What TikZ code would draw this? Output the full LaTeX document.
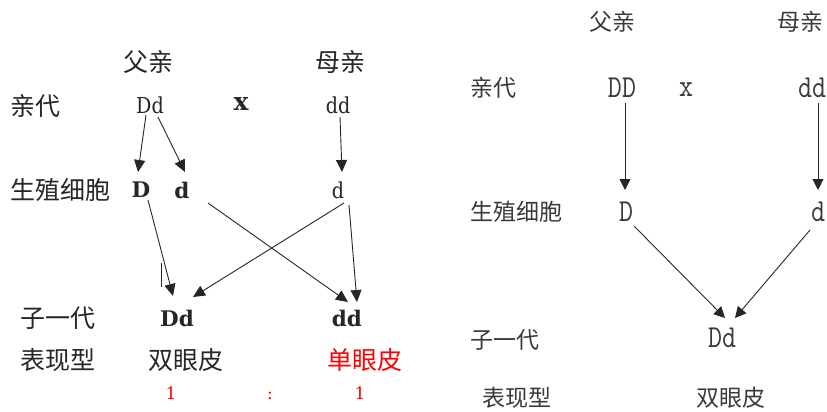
\documentclass[tikz,border=0pt]{standalone}
\usepackage{fontspec}
\setmainfont{DejaVu Serif}
\newfontfamily\serifc[FakeStretch=0.87]{DejaVu Serif}
\newfontfamily\cjk{Noto Sans CJK SC}
\newfontfamily\monof[FakeStretch=0.85]{Latin Modern Mono}
\usetikzlibrary{arrows.meta}
\definecolor{txtL}{HTML}{262626}
\definecolor{txtR}{HTML}{3A3A3A}
\begin{document}
\begin{tikzpicture}[x=1pt,y=-1pt,
  every node/.style={inner sep=0pt,outer sep=0pt},
  cnL/.style={font=\cjk\fontsize{25}{25}\selectfont,text=txtL},
  cnR/.style={font=\cjk\fontsize{23}{23}\selectfont,text=txtR},
  laL/.style={font=\serifc\fontsize{22}{22}\selectfont,text=txtL},
  laLb/.style={font=\bfseries\fontsize{21.5}{21.5}\selectfont,text=txtL},
  numr/.style={font=\fontsize{17}{17}\selectfont,text=red},
  mono/.style={font=\monof\fontsize{32}{32}\selectfont,text=txtR},
  arrL/.style={draw=black!85,line width=0.9pt,-{Triangle[length=12pt,width=11pt]}},
  arrR/.style={draw=black!85,line width=0.9pt,-{Triangle[length=11pt,width=11pt]}}]
\useasboundingbox[fill=white] (0,0) rectangle (827,412);
% ---------- left diagram ----------
\node[cnL] (fq1) at (148,62) {父亲};
\node[cnL] (mq1) at (340,62) {母亲};
\node[cnL,anchor=west] (qd1) at (10,106) {亲代};
\node[laL] (P1) at (150,105) {Dd};
\node[laLb,font=\bfseries\fontsize{25}{25}\selectfont] (x1) at (241,104) {x};
\node[laL] (P2) at (338,105) {dd};
\node[cnL,anchor=west] (sz1) at (10,190) {生殖细胞};
\node[laLb] (G1) at (141,190) {D};
\node[laLb] (G2) at (182,190) {d};
\node[laL] (G3) at (338,190) {d};
\node[cnL,anchor=west] (zy1) at (20,318) {子一代};
\node[laLb] (F1) at (177,318) {Dd};
\node[laLb] (F2) at (347,318) {dd};
\node[cnL,anchor=west] (bx1) at (20,360) {表现型};
\node[cnL] (ph1) at (186,360) {双眼皮};
\node[cnL,text=red] (ph2) at (365,360) {单眼皮};
\node[numr] (r1) at (171,393) {1};
\node[numr] (c1) at (270,396) {:};
\node[numr] (r2) at (360,393) {1};
\draw[arrL] ([shift={(-4,10)}]P1.center) -- ([shift={(-3,-18)}]G1.center);
\draw[arrL] ([shift={(8,12)}]P1.center) -- ([shift={(3,-18)}]G2.center);
\draw[arrL] ([shift={(2,12)}]P2.center) -- ([shift={(4,-18)}]G3.center);
\draw[arrL] ([shift={(7,10)}]G1.center) -- ([shift={(-4,-22)}]F1.center);
\draw[arrL] ([shift={(26,13)}]G2.center) -- ([shift={(1,-16)}]F2.center);
\draw[arrL] ([shift={(6,13)}]G3.center) -- ([shift={(16,-21)}]F1.center);
\draw[arrL] ([shift={(11,15)}]G3.center) -- ([shift={(10,-16)}]F2.center);
\coordinate (s1) at (161,263);
\coordinate (s2) at (161,287);
\draw[black!85,line width=0.8pt] (s1) -- (s2);
% ---------- right diagram ----------
\node[cnR] (fq2) at (612,22) {父亲};
\node[cnR] (mq2) at (800,22) {母亲};
\node[cnR,anchor=west] (qd2) at (470,88) {亲代};
\node[mono] (P3) at (622,88) {DD};
\node[mono] (x2) at (686,90) {x};
\node[mono] (P4) at (812,88) {dd};
\node[cnR,anchor=west] (sz2) at (470,212) {生殖细胞};
\node[mono] (G4) at (626,212) {D};
\node[mono] (G5) at (818,212) {d};
\node[cnR,anchor=west] (zy2) at (470,340) {子一代};
\node[mono] (F3) at (722,338) {Dd};
\node[cnR,anchor=west] (bx2) at (482,398) {表现型};
\node[cnR] (ph3) at (731,398) {双眼皮};
\draw[arrR] ([shift={(3,15)}]P3.center) -- ([shift={(-1,-22)}]G4.center);
\draw[arrR] ([shift={(6,15)}]P4.center) -- ([shift={(0,-22)}]G5.center);
\draw[arrR] ([shift={(8,14)}]G4.center) -- ([shift={(3,-20)}]F3.center);
\draw[arrR] ([shift={(-8,18)}]G5.center) -- ([shift={(13,-20)}]F3.center);
\end{tikzpicture}
\end{document}
